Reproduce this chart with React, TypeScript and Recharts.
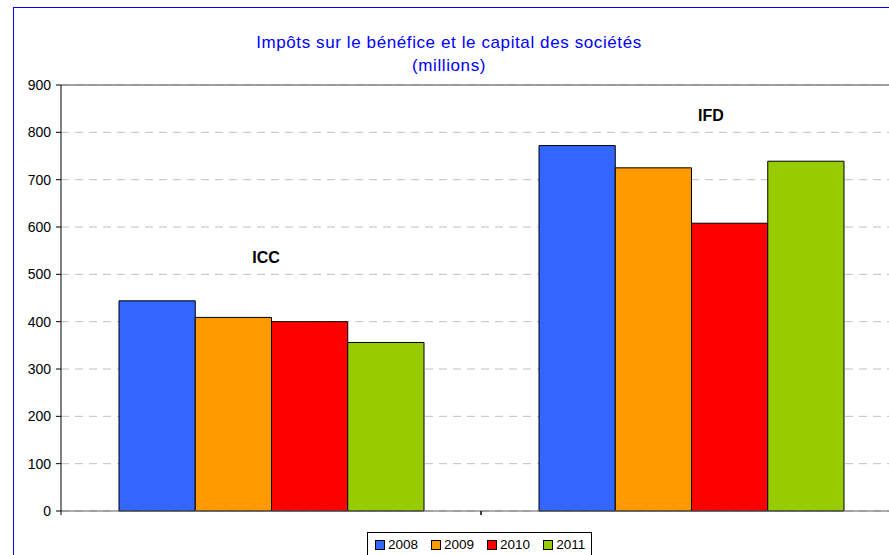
import { BarChart, Bar, XAxis, YAxis, CartesianGrid, ReferenceLine, ReferenceDot, Label } from 'recharts'

const categories = ['ICC', 'IFD']
const years = ['2008', '2009', '2010', '2011']
const values2008 = [444, 772]
const values2009 = [409, 725]
const values2010 = [400, 608]
const values2011 = [356, 739]
const yTicks = [0, 100, 200, 300, 400, 500, 600, 700, 800, 900]
// height of the ICC / IFD captions, in axis units
const captionY = [537, 837]

const COLORS = ['#3366ff', '#ff9900', '#ff0000', '#99cc00']
const FONT = "'Liberation Sans', Arial, sans-serif"

const seriesValues = [values2008, values2009, values2010, values2011]

const data = categories.map((name, i) => {
  const row: Record<string, string | number> = { name }
  years.forEach((y, s) => { row[y] = seriesValues[s][i] })
  return row
})

// Excel puts category ticks on the band edges, not in the middle
const BoundaryTick = ({ x, y, payload }: any) => {
  const half = payload?.offset || 210
  return (
    <g>
      <line x1={x - half} x2={x - half} y1={y} y2={y + 4} stroke="#000" />
      <line x1={x + half} x2={x + half} y1={y} y2={y + 4} stroke="#000" />
    </g>
  )
}

export default function App() {
  return (
    <div style={{ position: 'fixed', left: 0, top: 0, width: 889, height: 555, overflow: 'hidden', background: '#fff', fontFamily: FONT }}>
      <div style={{ position: 'absolute', left: 13, top: 7, width: 2000, height: 2000, border: '1px solid #0000ff' }} />

      <div style={{ position: 'absolute', left: 0, top: 31, width: 898, textAlign: 'center', color: '#0000ff', fontSize: 17, letterSpacing: 0.6, lineHeight: '23px' }}>
        Impôts sur le bénéfice et le capital des sociétés<br />(millions)
      </div>

      <div style={{ position: 'absolute', left: 0, top: 0 }}>
        <BarChart
          width={950}
          height={580}
          data={data}
          margin={{ top: 85, right: 49, left: 13, bottom: 49 }}
          barGap={0}
          barSize={76.25}
        >
          <CartesianGrid vertical={false} stroke="#c0c0c0" strokeDasharray="8 6" />
          <ReferenceLine y={900} stroke="#808080" strokeWidth={1.5} />
          <XAxis
            dataKey="name"
            height={20}
            axisLine={{ stroke: '#606060' }}
            tickLine={false}
            tickSize={0}
            tickMargin={0}
            tick={<BoundaryTick />}
          />
          <YAxis
            domain={[0, 900]}
            ticks={yTicks}
            width={48}
            interval={0}
            axisLine={{ stroke: '#000' }}
            tickLine={{ stroke: '#000' }}
            tickSize={5}
            tickMargin={5}
            tick={{ fill: '#000', fontSize: 14, fontFamily: FONT }}
          />
          {years.map((y, i) => (
            <Bar key={y} dataKey={y} fill={COLORS[i]} stroke="#000" strokeWidth={1} isAnimationActive={false} />
          ))}
          <ReferenceDot x={categories[0]} y={captionY[0]} r={0} fill="none" stroke="none">
            <Label value={categories[0]} position="center" dx={-5} fontSize={16} fontWeight="bold" fill="#000" fontFamily={FONT} />
          </ReferenceDot>
          <ReferenceDot x={categories[1]} y={captionY[1]} r={0} fill="none" stroke="none">
            <Label value={categories[1]} position="center" dx={20} fontSize={16} fontWeight="bold" fill="#000" fontFamily={FONT} />
          </ReferenceDot>
        </BarChart>
      </div>

      <div style={{ position: 'absolute', left: 367, top: 532, width: 225, height: 30, border: '1px solid #000', display: 'flex', alignItems: 'flex-start', paddingTop: 4, paddingLeft: 7, boxSizing: 'border-box', fontSize: 13.5, gap: 13 }}>
        {years.map((y, i) => (
          <div key={y} style={{ display: 'flex', alignItems: 'center', gap: 3, lineHeight: '16px' }}>
            <span style={{ display: 'inline-block', width: 8, height: 8, background: COLORS[i], border: '1px solid #000' }} />
            <span>{y}</span>
          </div>
        ))}
      </div>
    </div>
  )
}
